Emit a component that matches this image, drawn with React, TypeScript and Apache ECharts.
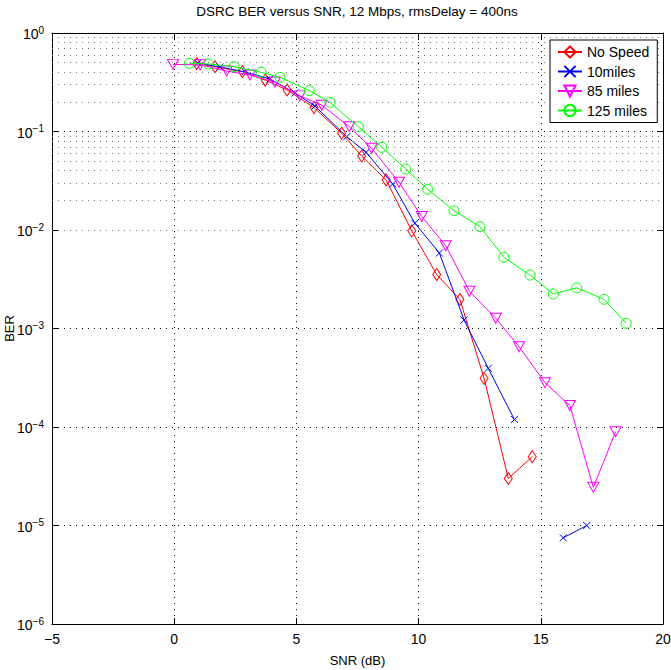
import React, { useEffect, useRef } from 'react';
import * as echarts from 'echarts';

const titleText = 'DSRC BER versus SNR, 12 Mbps, rmsDelay = 400ns';
const xName = 'SNR (dB)';
const yName = 'BER';
const seriesNames = ['No Speed', '10miles', '85 miles', '125 miles'];
const seriesColors = ['#ff0000', '#0000ff', '#ff00ff', '#00ff00'];

const noSpeedSnr = [0.92, 1.67, 2.79, 3.72, 4.62, 5.72, 6.85, 7.67, 8.67, 9.72, 10.74, 11.69, 12.68, 13.67, 14.65];
const noSpeedBer = [0.49, 0.455, 0.405, 0.333, 0.264, 0.175, 0.096, 0.0564, 0.0322, 0.0098, 0.00353, 0.00197, 3.12e-4, 3.0e-5, 5.0e-5];

const miles10Snr = [0.97, 1.87, 2.9, 3.92, 4.94, 5.76, 7.06, 7.85, 8.94, 9.85, 10.85, 11.86, 12.85, 13.92, 14.9, 15.92, 16.88];
const miles10Ber = [0.496, 0.452, 0.402, 0.341, 0.246, 0.181, 0.0886, 0.0615, 0.0293, 0.0117, 0.00584, 0.00122, 3.94e-4, 1.19e-4, null, 7.5e-6, 1.0e-5];

const miles85Snr = [-0.05, 1.06, 2.15, 3.1, 4.12, 5.14, 6.04, 7.16, 8.08, 9.2, 10.13, 11.11, 12.08, 13.16, 14.11, 15.17, 16.19, 17.15, 18.06];
const miles85Ber = [0.48, 0.475, 0.411, 0.375, 0.318, 0.23, 0.185, 0.112, 0.0675, 0.0305, 0.0137, 0.00693, 0.00239, 0.00127, 6.53e-4, 2.82e-4, 1.65e-4, 2.44e-5, 8.95e-5];

const miles125Snr = [0.62, 1.4, 2.45, 3.55, 4.33, 5.53, 6.37, 7.53, 8.49, 9.48, 10.37, 11.45, 12.51, 13.49, 14.56, 15.51, 16.47, 17.59, 18.49];
const miles125Ber = [0.492, 0.485, 0.455, 0.399, 0.355, 0.26, 0.198, 0.112, 0.0691, 0.0416, 0.0259, 0.0157, 0.0108, 0.00528, 0.00349, 0.00224, 0.00259, 0.00198, 0.00113];

const xMin = -5;
const xMax = 20;
const xStep = 5;
const decadeExponents = [-6, -5, -4, -3, -2, -1];
const minorMultipliers = [2, 3, 4, 5, 6, 7, 8, 9];

const FONT = 'Liberation Sans, Arial, Helvetica, sans-serif';

function zip(xs: number[], ys: (number | null)[]) {
  return xs.map((x, i) => [x, ys[i] === null ? '-' : ys[i]]);
}

export default function App() {
  const ref = useRef<HTMLDivElement>(null);
  useEffect(() => {
    document.body.style.margin = '0';
    const chart = echarts.init(ref.current!, null, { renderer: 'svg' });

    const minorValues: number[] = [];
    decadeExponents.forEach((e) => {
      minorMultipliers.forEach((m) => minorValues.push(m * Math.pow(10, e)));
    });

    const sup = (v: number) => {
      const e = Math.round(Math.log10(v));
      const s = e < 0 ? '\u2212' + String(-e) : String(e);
      return `{b|10}{s|${s}}`;
    };

    const markerDefs = [
      { symbol: 'diamond', symbolSize: [8, 12], symbolRotate: 0 },
      { symbol: 'path://M0,0L10,10M0,10L10,0', symbolSize: 7, symbolRotate: 0 },
      { symbol: 'triangle', symbolSize: [11, 10], symbolRotate: 180 },
      { symbol: 'circle', symbolSize: 10, symbolRotate: 0 },
    ];
    const datasets = [
      zip(noSpeedSnr, noSpeedBer),
      zip(miles10Snr, miles10Ber),
      zip(miles85Snr, miles85Ber),
      zip(miles125Snr, miles125Ber),
    ];

    const dataSeries = seriesNames.map((name, i) => ({
      name,
      type: 'line',
      data: datasets[i],
      symbol: markerDefs[i].symbol,
      symbolSize: markerDefs[i].symbolSize,
      symbolRotate: markerDefs[i].symbolRotate,
      showAllSymbol: true,
      connectNulls: false,
      lineStyle: { color: seriesColors[i], width: 1 },
      itemStyle: { color: 'rgba(0,0,0,0)', borderColor: seriesColors[i], borderWidth: 1 },
      emphasis: { disabled: true },
      z: 3 + i,
    }));

    const gridSeries = {
      name: '__grid',
      type: 'line',
      data: [],
      silent: true,
      markLine: {
        silent: true,
        symbol: ['none', 'none'],
        label: { show: false },
        lineStyle: { type: [1, 5], color: '#777', width: 1 },
        emphasis: { disabled: true },
        data: minorValues.map((v) => ({ yAxis: v })),
      },
      z: 1,
    };

    chart.setOption({
      animation: false,
      backgroundColor: '#fff',
      title: {
        text: titleText,
        left: 357,
        top: 4,
        padding: 0,
        textAlign: 'center',
        textStyle: { fontFamily: FONT, fontSize: 13.5, fontWeight: 'normal', color: '#000' },
      },
      legend: {
        data: seriesNames,
        orient: 'vertical',
        left: 550,
        top: 40,
        padding: [5, 8, 5, 7],
        itemWidth: 24,
        itemHeight: 14,
        itemGap: 5.5,
        borderColor: '#000',
        borderWidth: 1,
        backgroundColor: '#fff',
        textStyle: { fontFamily: FONT, fontSize: 14, color: '#000' },
        z: 10,
      },
      grid: { left: 52, right: 8, top: 33, bottom: 46, containLabel: false, outerBoundsMode: 'none' },
      xAxis: [
        {
          type: 'value',
          min: xMin,
          max: xMax,
          interval: xStep,
          name: xName,
          nameLocation: 'middle',
          nameGap: 30,
          nameMoveOverlap: false,
          nameTextStyle: { fontFamily: FONT, fontSize: 13, color: '#000' },
          axisLine: { show: true, onZero: false, lineStyle: { color: '#000', width: 1 } },
          axisTick: { show: true, inside: true, length: 6, lineStyle: { color: '#000' } },
          axisLabel: {
            fontFamily: FONT,
            fontSize: 14,
            color: '#000',
            margin: 8,
            formatter: (v: number) => (v < 0 ? '\u2212' + String(-v) : String(v)),
          },
          splitLine: { show: true, lineStyle: { type: [1, 5], color: '#000', width: 1 } },
        },
        {
          type: 'value',
          position: 'top',
          min: xMin,
          max: xMax,
          interval: xStep,
          axisLine: { show: true, onZero: false, lineStyle: { color: '#000', width: 1 } },
          axisTick: { show: true, inside: true, length: 6, lineStyle: { color: '#000' } },
          axisLabel: { show: false },
          splitLine: { show: false },
        },
      ],
      yAxis: [
        {
          type: 'log',
          logBase: 10,
          min: 1e-6,
          max: 1,
          splitNumber: 6,
          name: yName,
          nameLocation: 'middle',
          nameGap: 36,
          nameMoveOverlap: false,
          nameRotate: 90,
          nameTextStyle: { fontFamily: FONT, fontSize: 13, color: '#000' },
          axisLine: { show: true, onZero: false, lineStyle: { color: '#000', width: 1 } },
          axisTick: { show: true, inside: true, length: 6, lineStyle: { color: '#000' } },
          axisLabel: {
            color: '#000',
            margin: 8,
            formatter: sup,
            rich: {
              b: { fontFamily: FONT, fontSize: 14, lineHeight: 16, verticalAlign: 'bottom', color: '#000' },
              s: { fontFamily: FONT, fontSize: 10, lineHeight: 8, verticalAlign: 'top', color: '#000' },
            },
          },
          splitLine: { show: true, lineStyle: { type: [1, 5], color: '#000', width: 1 } },
        },
        {
          type: 'log',
          logBase: 10,
          min: 1e-6,
          max: 1,
          splitNumber: 6,
          position: 'right',
          axisLine: { show: true, onZero: false, lineStyle: { color: '#000', width: 1 } },
          axisTick: { show: true, inside: true, length: 6, lineStyle: { color: '#000' } },
          axisLabel: { show: false },
          splitLine: { show: false },
        },
      ],
      series: [gridSeries, ...dataSeries],
    });

    return () => chart.dispose();
  }, []);
  return <div ref={ref} style={{ width: 671, height: 670 }} />;
}
